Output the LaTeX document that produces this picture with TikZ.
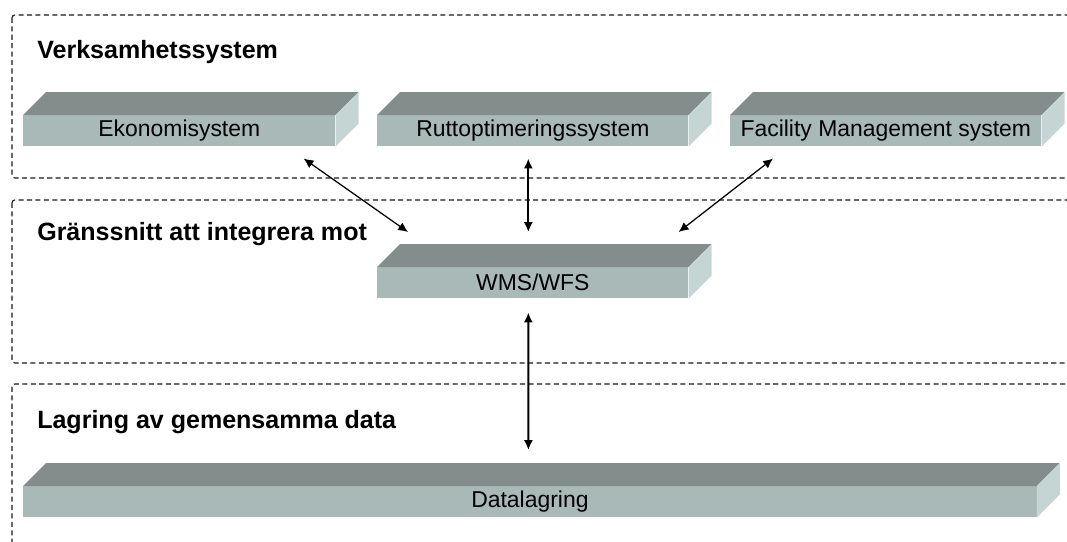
\documentclass[tikz,border=0pt]{standalone}
\usepackage{fontspec}
\setmainfont{Liberation Sans}
\usetikzlibrary{arrows.meta}
\definecolor{slabtop}{HTML}{838D8C}
\definecolor{slabfront}{HTML}{A9B9B8}
\definecolor{slabside}{HTML}{C4D5D4}
\begin{document}
\begin{tikzpicture}[x=0.025cm, y=-0.025cm,
        layer/.style={draw=black!90, dash pattern=on 3.6pt off 2.4pt,
            line width=0.8pt, rounded corners=2pt},
        heading/.style={anchor=base west, inner sep=0pt,
            font=\fontsize{17.8}{20}\selectfont\bfseries},
        slab/.style={fill=slabfront, anchor=north west, inner sep=0pt,
            minimum height=0.775cm, font=\fontsize{16.3}{19}\selectfont},
        link/.style={{Latex[length=7pt,width=6.5pt]}-{Latex[length=7pt,width=6.5pt]},
            line width=0.9pt}]
    \useasboundingbox (0,0) rectangle (1067,541);
    \clip (0,0) rectangle (1067,541);
    \draw[layer] (12,15) rectangle (1090,178);
    \draw[layer] (12,200) rectangle (1090,363);
    \draw[layer] (12,384) rectangle (1090,570);
    \node[heading] (biz) at (37,58) {Verksamhetssystem};
    \node[heading] (api) at (37,240) {Gränssnitt att integrera mot};
    \node[heading] (store) at (37,428) {Lagring av gemensamma data};
    \node[slab, minimum width=7.8cm] (eko) at (23,115) {Ekonomisystem};
    \node[slab, minimum width=7.775cm] (rutt) at (377,115) {Ruttoptimeringssystem};
    \node[slab, minimum width=7.775cm] (fms) at (730,115) {Facility Management system};
    \node[slab, minimum width=7.775cm] (wms) at (377,267) {WMS/WFS};
    \node[slab, minimum width=25.325cm] (data) at (23,486) {Datalagring};
    % top and side faces of each slab
    \foreach \n in {eko,rutt,fms,wms,data} {
        \fill[slabtop] (\n.north west) -- ++(23,-23)
            -- ([shift={(23,-23)}]\n.north east) -- (\n.north east) -- cycle;
        \fill[slabside] (\n.north east) -- ++(23,-23)
            -- ([shift={(23,-23)}]\n.south east) -- (\n.south east) -- cycle;
    }
    \draw[link] ([shift={(-32,12)}]eko.south east) -- ([shift={(31,-35)}]wms.north west);
    \draw[link, line width=1.4pt] ([shift={(-4.5,12)}]rutt.south) -- ([shift={(-4.5,-35)}]wms.north);
    \draw[link] ([shift={(43,12)}]fms.south west) -- ([shift={(-10,-35)}]wms.north east);
    \draw[link, line width=1.4pt] ([shift={(-4.5,14)}]wms.south) -- ([shift={(-1.5,-36)}]data.north);
\end{tikzpicture}
\end{document}
